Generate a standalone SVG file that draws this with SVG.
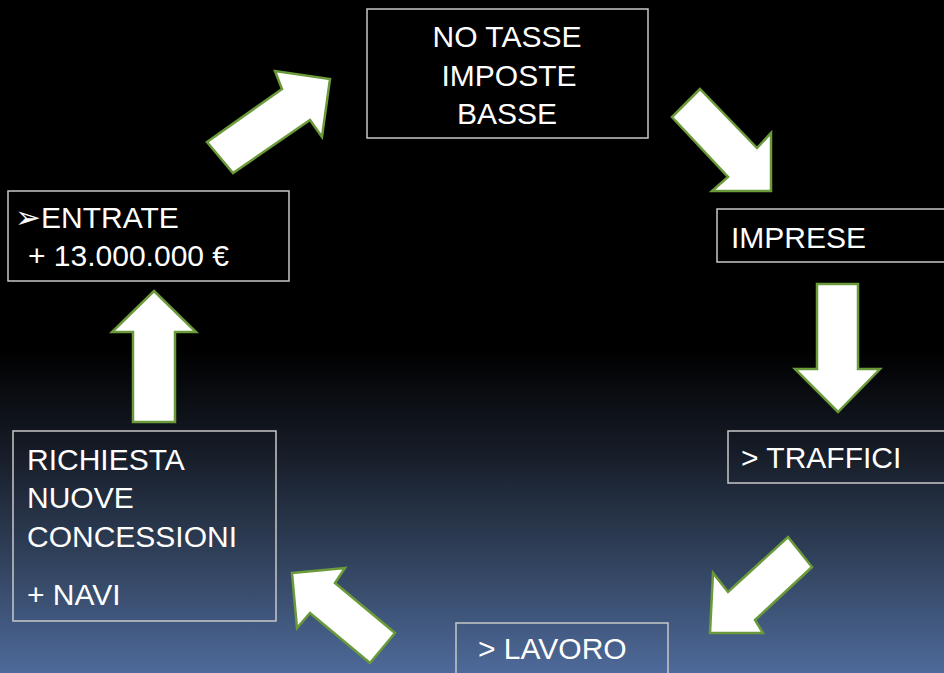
<svg xmlns="http://www.w3.org/2000/svg" width="944" height="673" viewBox="0 0 944 673">
<defs>
<linearGradient id="bg" x1="0" y1="0" x2="0" y2="1">
<stop offset="0" stop-color="#000000"/>
<stop offset="0.52" stop-color="#000000"/>
<stop offset="0.67" stop-color="#161c27"/>
<stop offset="0.82" stop-color="#2f3f58"/>
<stop offset="1" stop-color="#4e6a9a"/>
</linearGradient>
</defs>
<style>
.box{fill:none;stroke:#c8c8c8;stroke-width:1.5}
.t{font-family:"Liberation Sans",Arial,sans-serif;font-size:30px;fill:#ffffff}
.c{text-anchor:middle}
.arr{fill:#ffffff;stroke:#6a9a3a;stroke-width:2.5;stroke-linejoin:miter}
</style>
<rect width="944" height="673" fill="url(#bg)"/>

<g id="connectors">
<polygon class="arr" points="207,142 282,89 275,71 330,79 322,137 310,120 233,173"/>
<polygon class="arr" points="700,89 672,117 728,177 712,191 771,191 771,133 757,148"/>
<polygon class="arr" points="817,284 858,284 858,369 880,369 838,412 795,369 817,369"/>
<polygon class="arr" points="788,537 812,567 755,620 763,633 710,633 713,573 728,592"/>
<polygon class="arr" points="292,573 345,568 335,583 395,633 370,663 310,613 297,628"/>
<polygon class="arr" points="154,291 196,332 175,332 175,422 133,422 133,332 112,332"/>
</g>

<g id="node-notasse">
<rect class="box" x="367" y="9" width="281" height="129"/>
<text class="t c" x="507" y="47">NO TASSE</text>
<text class="t c" x="509" y="86">IMPOSTE</text>
<text class="t c" x="507" y="124">BASSE</text>
</g>

<g id="node-imprese">
<rect class="box" x="717" y="209" width="240" height="53"/>
<text class="t" x="731" y="248">IMPRESE</text>
</g>

<g id="node-traffici">
<rect class="box" x="728" y="431" width="230" height="52"/>
<text class="t" x="741" y="468">&gt; TRAFFICI</text>
</g>

<g id="node-lavoro">
<rect class="box" x="456" y="623" width="212" height="60"/>
<text class="t" x="478" y="659">&gt; LAVORO</text>
</g>

<g id="node-richiesta">
<rect class="box" x="13" y="431" width="263" height="190"/>
<text class="t" x="27" y="470">RICHIESTA</text>
<text class="t" x="27" y="508">NUOVE</text>
<text class="t" x="27" y="547">CONCESSIONI</text>
<text class="t" x="27" y="605">+ NAVI</text>
</g>

<g id="node-entrate">
<rect class="box" x="8" y="191" width="281" height="90"/>
<text class="t" x="15" y="228"><tspan font-family="DejaVu Sans,sans-serif" font-size="31">➢</tspan>ENTRATE</text>
<text class="t" x="28" y="266">+ 13.000.000 €</text>
</g>
</svg>
